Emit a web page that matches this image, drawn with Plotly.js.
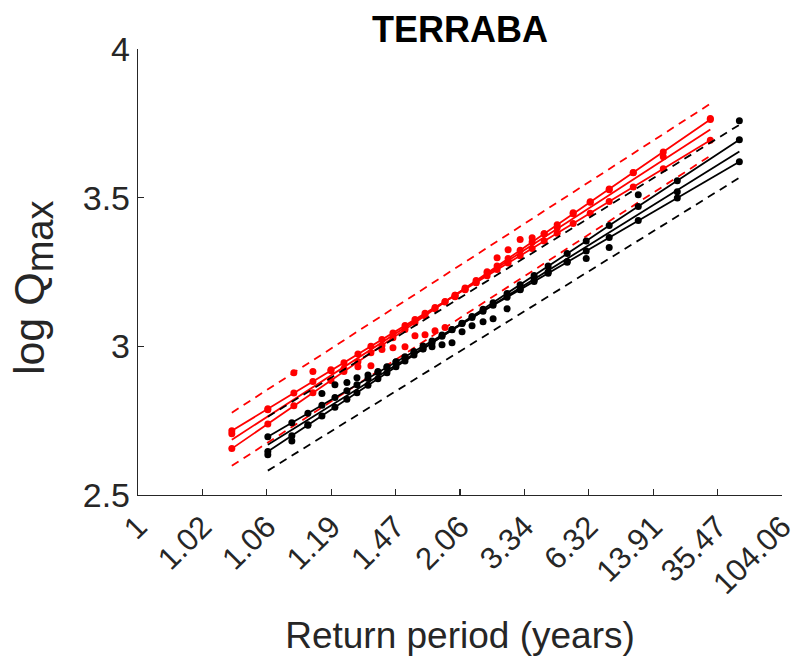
<!DOCTYPE html>
<html><head><meta charset="utf-8">
<script src="https://cdn.plot.ly/plotly-3.0.1.min.js"></script>
<style>html,body{margin:0;padding:0;background:#fff;} #chart{width:807px;height:661px;}</style>
</head><body><div id="chart"></div>
<script>
const tickPos = [0,1,2,3,4,5,6,7,8,9,10];
const tickLabels = ['1','1.02','1.06','1.19','1.47','2.06','3.34','6.32','13.91','35.47','104.06'];

const redX = [1.457,2.016,2.420,2.716,2.996,3.198,3.415,3.617,3.788,3.959,4.146,4.301,4.457,4.612,4.768,4.923,5.079,5.250,5.421,5.576,5.747,5.934,6.120,6.307,6.509,6.757,7.022,7.317,7.690,8.156,8.887];
const redObs = [2.706,2.787,2.911,2.915,2.921,2.925,2.931,2.935,2.989,2.995,2.999,3.036,3.039,3.052,3.063,3.167,3.190,3.214,3.251,3.298,3.325,3.359,3.365,3.379,3.399,3.449,3.486,3.527,3.584,3.638,3.766];
const redFitA = [2.656,2.739,2.800,2.844,2.885,2.915,2.948,2.978,3.003,3.029,3.057,3.080,3.103,3.126,3.149,3.172,3.196,3.221,3.247,3.270,3.295,3.323,3.351,3.379,3.409,3.446,3.485,3.529,3.585,3.654,3.763];
const redFitB = [2.716,2.790,2.843,2.882,2.918,2.945,2.974,3.000,3.023,3.045,3.070,3.090,3.111,3.131,3.151,3.172,3.192,3.215,3.237,3.258,3.280,3.305,3.329,3.354,3.380,3.413,3.448,3.487,3.536,3.597,3.693];
const redLineX = [1.457, 8.887];
const redMid = [2.686, 3.729];
const redUpper = [2.777, 3.816];
const redLower = [2.598, 3.641];

const blackX = [2.016,2.389,2.638,2.856,3.058,3.244,3.400,3.571,3.726,3.866,4.006,4.146,4.286,4.426,4.566,4.721,4.876,5.032,5.187,5.358,5.514,5.731,5.934,6.151,6.369,6.664,6.960,7.317,7.768,8.374,9.338];
const blackObs = [2.635,2.682,2.736,2.841,2.871,2.878,2.894,2.904,2.915,2.931,2.948,2.962,2.979,2.992,2.999,3.005,3.012,3.049,3.069,3.083,3.093,3.126,3.190,3.224,3.251,3.285,3.295,3.332,3.510,3.520,3.759];
const blackFitA = [2.646,2.699,2.735,2.766,2.795,2.822,2.844,2.869,2.891,2.911,2.931,2.951,2.971,2.991,3.011,3.034,3.056,3.078,3.100,3.125,3.147,3.178,3.207,3.238,3.270,3.312,3.354,3.406,3.470,3.557,3.695];
const blackFitB = [2.696,2.743,2.775,2.802,2.828,2.851,2.871,2.892,2.912,2.930,2.947,2.965,2.983,3.001,3.018,3.038,3.057,3.077,3.097,3.118,3.138,3.165,3.191,3.218,3.246,3.283,3.321,3.366,3.423,3.499,3.621];
const blackLineX = [2.016, 9.338];
const blackMid = [2.669, 3.655];
const blackUpper = [2.763, 3.745];
const blackLower = [2.582, 3.567];

const RED = '#ff0000', BLK = '#000000';
const LW = 1.8, MS = 7;
function dotted(x, y, c){ return {x:x, y:y, mode:'lines+markers', line:{color:c, width:LW}, marker:{color:c, size:MS}, hoverinfo:'skip'}; }
function solid(x, y, c){ return {x:x, y:y, mode:'lines', line:{color:c, width:LW}, hoverinfo:'skip'}; }
function dashed(x, y, c){ return {x:x, y:y, mode:'lines', line:{color:c, width:LW, dash:'8px,6px'}, hoverinfo:'skip'}; }
function pts(x, y, c){ return {x:x, y:y, mode:'markers', marker:{color:c, size:MS}, hoverinfo:'skip'}; }

const traces = [
  pts(redX, redObs, RED),
  dotted(redX, redFitA, RED),
  dotted(redX, redFitB, RED),
  solid(redLineX, redMid, RED),
  dashed(redLineX, redUpper, RED),
  dashed(redLineX, redLower, RED),
  pts(blackX, blackObs, BLK),
  dotted(blackX, blackFitA, BLK),
  dotted(blackX, blackFitB, BLK),
  solid(blackLineX, blackMid, BLK),
  dashed(blackLineX, blackUpper, BLK),
  dashed(blackLineX, blackLower, BLK)
];

const FONT = 'Liberation Sans, Arial, Helvetica, sans-serif';
const AX = '#262626';
const layout = {
  width: 807, height: 661,
  margin: {l:138, r:25, t:49, b:166},
  paper_bgcolor: '#fff', plot_bgcolor: '#fff',
  showlegend: false,
  font: {family: FONT, color: AX},
  title: {text: '<b>TERRABA</b>', font: {family: FONT, size: 36, color: '#000'}, xref: 'paper', x: 0.5, xanchor: 'center', yref: 'container', y: 0.955, yanchor: 'middle'},
  xaxis: {
    range: [0, 10], tickmode: 'array', tickvals: tickPos, ticktext: tickLabels,
    tickangle: -45, ticks: 'inside', ticklen: 6, tickwidth: 1.2, tickcolor: AX,
    showline: true, linecolor: AX, linewidth: 1.2, showgrid: false, zeroline: false,
    tickfont: {family: FONT, size: 31, color: AX}, automargin: false,
    title: {text: 'Return period (years)', font: {family: FONT, size: 37, color: AX}, standoff: 22}
  },
  yaxis: {
    range: [2.5, 4], tickmode: 'array', tickvals: [2.5, 3, 3.5, 4], ticktext: ['2.5','3','3.5','4'],
    ticks: 'inside', ticklen: 6, tickwidth: 1.2, tickcolor: AX,
    showline: true, linecolor: AX, linewidth: 1.2, showgrid: false, zeroline: false,
    tickfont: {family: FONT, size: 34, color: AX}, automargin: false,
    title: {text: 'log Q<sub><span style="font-size:38px">max&nbsp;&nbsp;&nbsp;</span></sub>', font: {family: FONT, size: 43, color: AX}, standoff: 24}
  }
};
Plotly.newPlot('chart', traces, layout, {displayModeBar: false, staticPlot: true});
</script>
</body></html>
